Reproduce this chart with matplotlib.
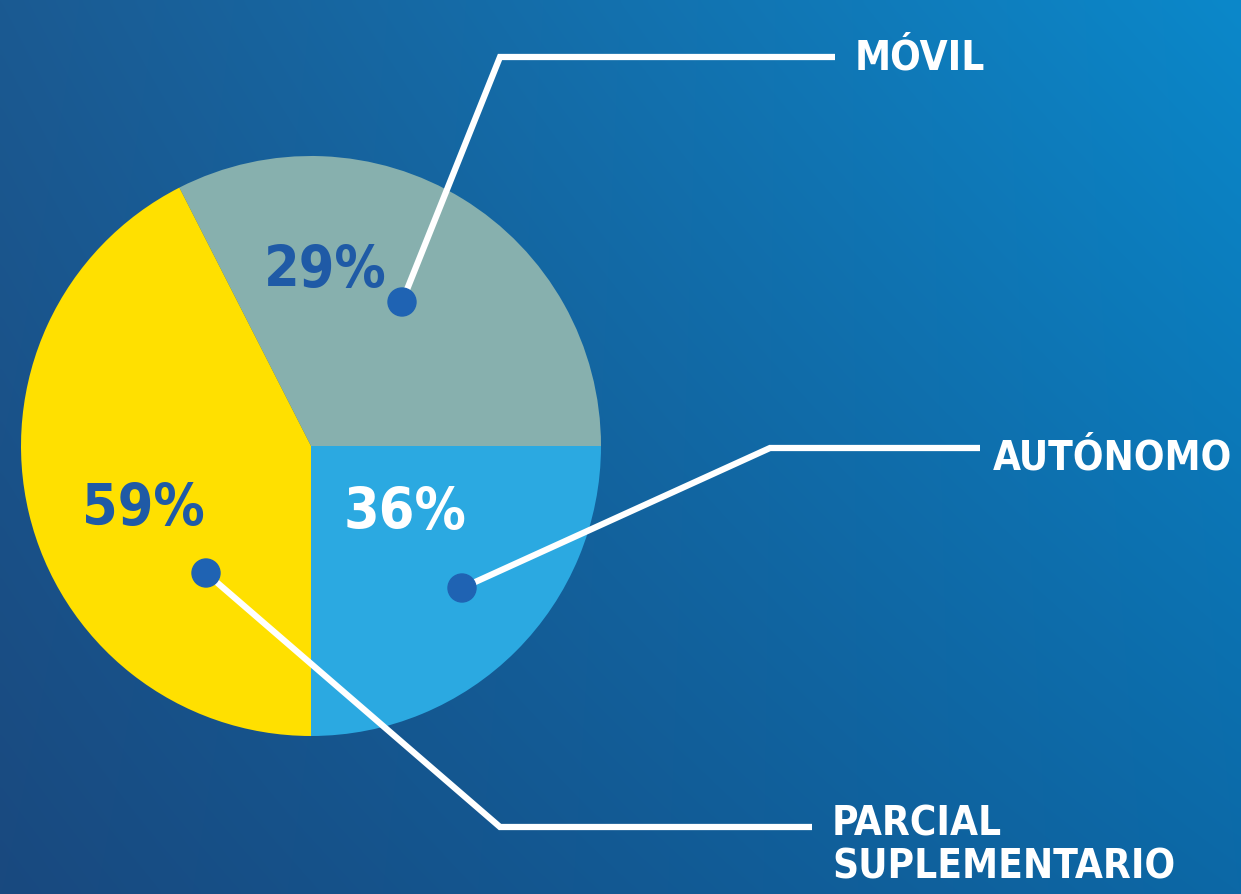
import numpy as np
import matplotlib.pyplot as plt

W, H = 1241, 894

# wedge shares as drawn (counter-clockwise from 3 o'clock)
categories = ["MÓVIL", "PARCIAL\nSUPLEMENTARIO", "AUTÓNOMO"]
shares = [32.5, 42.5, 25.0]
pct_labels = ["29%", "59%", "36%"]
wedge_colors = ["#87b0ae", "#ffe000", "#2ba9e1"]
pct_colors = ["#1f5aa6", "#1f5aa6", "#ffffff"]

FONT = "DejaVu Sans"

fig = plt.figure(figsize=(W / 100, H / 100), dpi=100)

# background gradient
bg = fig.add_axes([0, 0, 1, 1])
yy, xx = np.mgrid[0:1:200j, 0:1:300j]
tl = np.array([0x1b, 0x5a, 0x92]) / 255
tr = np.array([0x0b, 0x88, 0xca]) / 255
bl = np.array([0x19, 0x49, 0x7f]) / 255
br = np.array([0x0c, 0x68, 0xa6]) / 255
img = ((1 - xx)[..., None] * (1 - yy)[..., None] * tl + xx[..., None] * (1 - yy)[..., None] * tr
       + (1 - xx)[..., None] * yy[..., None] * bl + xx[..., None] * yy[..., None] * br)
bg.imshow(img, aspect="auto", extent=[0, 1, 0, 1], interpolation="bicubic")
bg.axis("off")

ax = fig.add_axes([0, 0, 1, 1])
ax.patch.set_alpha(0)
cx, cy, R = 311, H - 446, 290
wedges, _ = ax.pie(shares, colors=wedge_colors, startangle=0, counterclock=True,
                   center=(cx, cy), radius=R, frame=True,
                   wedgeprops=dict(linewidth=0))
ax.set_xlim(0, W)
ax.set_ylim(0, H)
ax.set_aspect("equal")
ax.axis("off")

# percentage labels (pixel positions of the reference)
pct_pos = [(325, 272), (143, 510), (405, 513)]
for (px, py), t, c in zip(pct_pos, pct_labels, pct_colors):
    ax.text(px, H - py, t, color=c, fontsize=41, fontweight="bold", family=FONT,
            fontstretch="condensed", ha="center", va="center")

# leader lines: dot -> elbow -> end, label
dot_pos = [(402, 302), (206, 573), (462, 588)]
elbows = [(500, 57), (500, 827), (770, 448)]
ends = [(835, 57), (812, 827), (980, 448)]
label_pos = [(855, 58), (832, 846), (993, 459)]
for d, e, f, lp, name in zip(dot_pos, elbows, ends, label_pos, categories):
    ax.plot([d[0], e[0], f[0]], [H - d[1], H - e[1], H - f[1]], color="white",
            lw=4.5, solid_capstyle="butt", solid_joinstyle="miter", zorder=3)
    ax.add_patch(plt.Circle((d[0], H - d[1]), 14, color="#1f63b3", zorder=4))
    ax.text(lp[0], H - lp[1], name, color="white", fontsize=29, fontweight="bold",
            family=FONT, fontstretch="condensed", ha="left", va="center",
            linespacing=1.1, zorder=5)

fig.savefig("out.png", dpi=100)
